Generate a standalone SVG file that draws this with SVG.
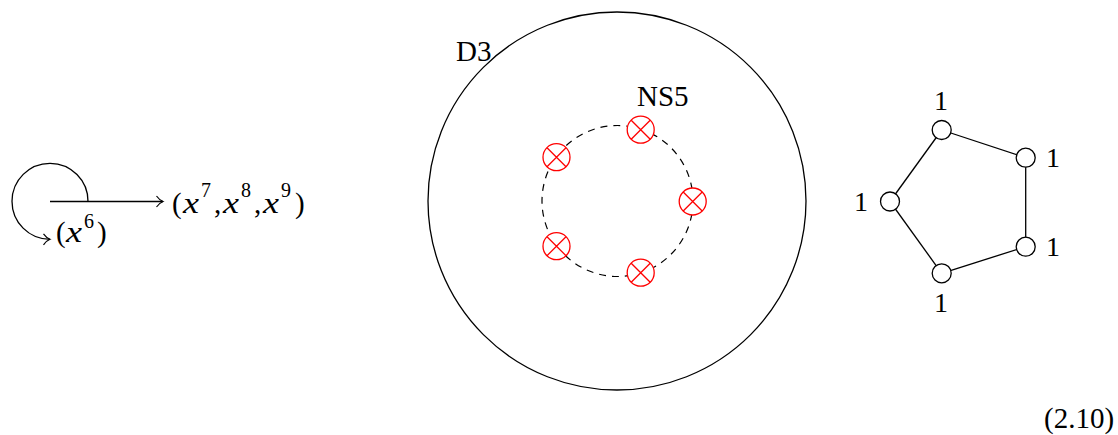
<svg xmlns="http://www.w3.org/2000/svg" width="1118" height="435" viewBox="0 0 1118 435">
<style>
text{font-family:"Liberation Serif","DejaVu Serif",serif;font-size:29px;fill:#000}
.it{font-style:italic;font-size:30px}
.sup{font-size:20px}
.one{font-size:28px;text-anchor:middle}
.ln{fill:none;stroke:#000;stroke-width:1.3}
.ns5{fill:#fff;stroke:#f00;stroke-width:1.3}
.x{stroke:#f00;stroke-width:1.3}
.nd{fill:#fff;stroke:#000;stroke-width:1.3}
</style>
<defs>
<marker id="ah" markerWidth="14" markerHeight="14" refX="0" refY="0" viewBox="-8 -7 10 14" orient="auto" markerUnits="userSpaceOnUse">
<path d="M-6.5,-5.5 C-4,-2 -1.5,-0.6 0,0 C-1.5,0.6 -4,2 -6.5,5.5" fill="none" stroke="#000" stroke-width="1.2"/>
</marker>
</defs>
<g id="connectors">
<path class="ln" d="M88,201.5 A38,38 0 1 0 50,239.3" marker-end="url(#ah)"/>
<path class="ln" d="M50,201.5 H163" marker-end="url(#ah)"/>
<circle class="ln" cx="617" cy="201" r="189"/>
<circle cx="617.5" cy="201" r="75.5" fill="none" stroke="#000" stroke-width="1.2" stroke-dasharray="7,6"/>
<g class="ln">
<line x1="890" y1="201.5" x2="941.7" y2="130"/>
<line x1="941.7" y1="130" x2="1025.7" y2="157.7"/>
<line x1="1025.7" y1="157.7" x2="1025.7" y2="246.7"/>
<line x1="1025.7" y1="246.7" x2="941.7" y2="273.3"/>
<line x1="941.7" y1="273.3" x2="890" y2="201.5"/>
</g>
</g>
<g id="label-789">
<text x="172" y="213">(</text>
<text class="it" x="183" y="213" textLength="16" lengthAdjust="spacingAndGlyphs">x</text>
<text class="sup" x="201" y="197">7</text>
<text x="214" y="213">,</text>
<text class="it" x="223" y="213" textLength="16" lengthAdjust="spacingAndGlyphs">x</text>
<text class="sup" x="241" y="197">8</text>
<text x="254" y="213">,</text>
<text class="it" x="263" y="213" textLength="16" lengthAdjust="spacingAndGlyphs">x</text>
<text class="sup" x="281" y="197">9</text>
<text x="295" y="213">)</text>
</g>
<g id="label-6">
<text x="56" y="242">(</text>
<text class="it" x="66" y="242" textLength="16" lengthAdjust="spacingAndGlyphs">x</text>
<text class="sup" x="84" y="228">6</text>
<text x="97" y="242">)</text>
</g>
<g id="d3"><text x="456" y="60.5">D3</text></g>
<g id="ns5-label"><text x="637" y="106">NS5</text></g>
<g id="ns5-1"><circle class="ns5" cx="692.7" cy="201.5" r="13.5"/><path class="x" d="M683.2,192 L702.2,211 M702.2,192 L683.2,211"/></g>
<g id="ns5-2"><circle class="ns5" cx="640.7" cy="129.7" r="13.5"/><path class="x" d="M631.2,120.2 L650.2,139.2 M650.2,120.2 L631.2,139.2"/></g>
<g id="ns5-3"><circle class="ns5" cx="556.5" cy="157.2" r="13.5"/><path class="x" d="M547,147.7 L566,166.7 M566,147.7 L547,166.7"/></g>
<g id="ns5-4"><circle class="ns5" cx="556.5" cy="246.2" r="13.5"/><path class="x" d="M547,236.7 L566,255.7 M566,236.7 L547,255.7"/></g>
<g id="ns5-5"><circle class="ns5" cx="640.7" cy="272.7" r="13.5"/><path class="x" d="M631.2,263.2 L650.2,282.2 M650.2,263.2 L631.2,282.2"/></g>
<g id="q-top"><circle class="nd" cx="941.7" cy="130" r="9.5"/><text class="one" x="941" y="110">1</text></g>
<g id="q-ur"><circle class="nd" cx="1025.7" cy="157.7" r="9.5"/><text class="one" x="1053" y="167">1</text></g>
<g id="q-lr"><circle class="nd" cx="1025.7" cy="246.7" r="9.5"/><text class="one" x="1053" y="256">1</text></g>
<g id="q-bot"><circle class="nd" cx="941.7" cy="273.3" r="9.5"/><text class="one" x="941" y="311.5">1</text></g>
<g id="q-left"><circle class="nd" cx="890" cy="201.5" r="9.5"/><text class="one" x="861" y="211">1</text></g>
<g id="eqno"><text x="1044" y="428" style="font-size:29px">(2.10)</text></g>
</svg>
